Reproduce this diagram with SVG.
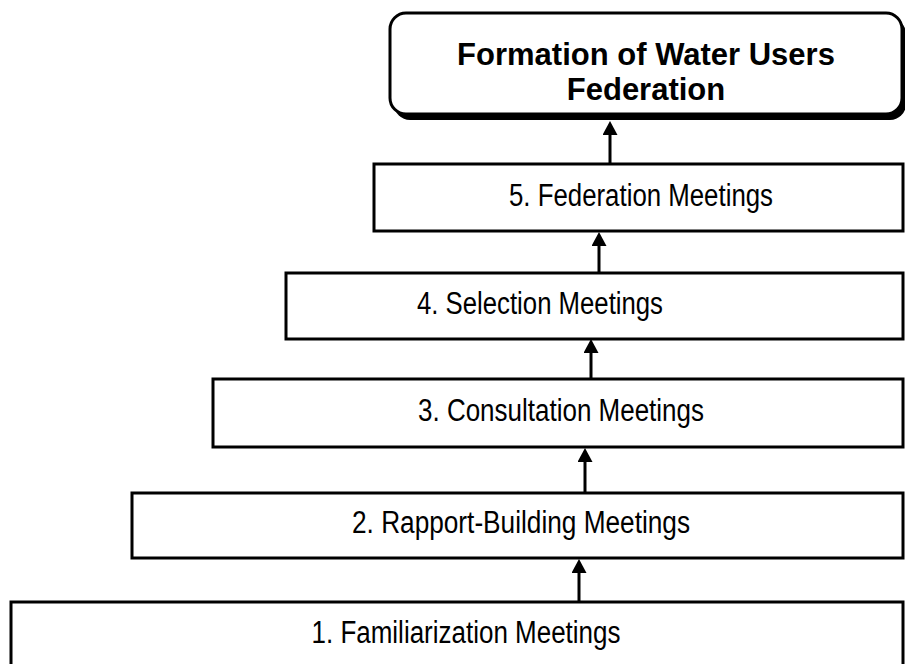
<svg xmlns="http://www.w3.org/2000/svg" width="905" height="664" viewBox="0 0 905 664">
  <style>
    .box { fill: #ffffff; stroke: #000000; stroke-width: 3; }
    .label { font-family: "Liberation Sans", Arial, sans-serif; font-size: 31px; fill: #000000; text-anchor: middle; }
    .title { font-family: "Liberation Sans", Arial, sans-serif; font-size: 31px; font-weight: bold; fill: #000000; text-anchor: middle; }
    .conn { stroke: #000000; stroke-width: 3; fill: none; marker-end: url(#arrow); }
  </style>
  <defs>
    <!-- arrowhead: base sits on the line end, tip points along the line -->
    <marker id="arrow" markerUnits="userSpaceOnUse" markerWidth="14" markerHeight="15" viewBox="0 0 14 15" refX="0" refY="7.5" orient="auto">
      <path d="M0,0 L14,7.5 L0,15 z" fill="#000000"/>
    </marker>
  </defs>
  <rect width="905" height="664" fill="#ffffff"/>

  <!-- final outcome -->
  <g id="federation">
    <rect x="394" y="18" width="512" height="102" rx="16" fill="#000000"/>
    <rect class="box" x="390" y="13" width="512" height="101" rx="16"/>
    <text class="title" x="646" y="65">Formation of Water Users</text>
    <text class="title" x="646" y="100">Federation</text>
  </g>

  <!-- meeting stages, narrow-set labels -->
  <g id="step5">
    <rect class="box" x="374" y="164" width="529" height="67"/>
    <text class="label" x="641" y="206" textLength="264" lengthAdjust="spacingAndGlyphs">5. Federation Meetings</text>
  </g>

  <g id="step4">
    <rect class="box" x="286" y="273" width="617" height="66"/>
    <text class="label" x="540" y="314" textLength="246" lengthAdjust="spacingAndGlyphs">4. Selection Meetings</text>
  </g>

  <g id="step3">
    <rect class="box" x="213" y="379" width="690" height="68"/>
    <text class="label" x="561" y="421" textLength="286" lengthAdjust="spacingAndGlyphs">3. Consultation Meetings</text>
  </g>

  <g id="step2">
    <rect class="box" x="132" y="493" width="771" height="65"/>
    <text class="label" x="521" y="533" textLength="338" lengthAdjust="spacingAndGlyphs">2. Rapport-Building Meetings</text>
  </g>

  <g id="step1">
    <rect class="box" x="11" y="602" width="892" height="80"/>
    <text class="label" x="466" y="643" textLength="309" lengthAdjust="spacingAndGlyphs">1. Familiarization Meetings</text>
  </g>

  <g id="connectors">
    <line class="conn" x1="610" y1="163" x2="610" y2="135"/>
    <line class="conn" x1="599" y1="272" x2="599" y2="246"/>
    <line class="conn" x1="591" y1="378" x2="591" y2="353"/>
    <line class="conn" x1="585" y1="492" x2="585" y2="462"/>
    <line class="conn" x1="579" y1="601" x2="579" y2="573"/>
  </g>
</svg>
